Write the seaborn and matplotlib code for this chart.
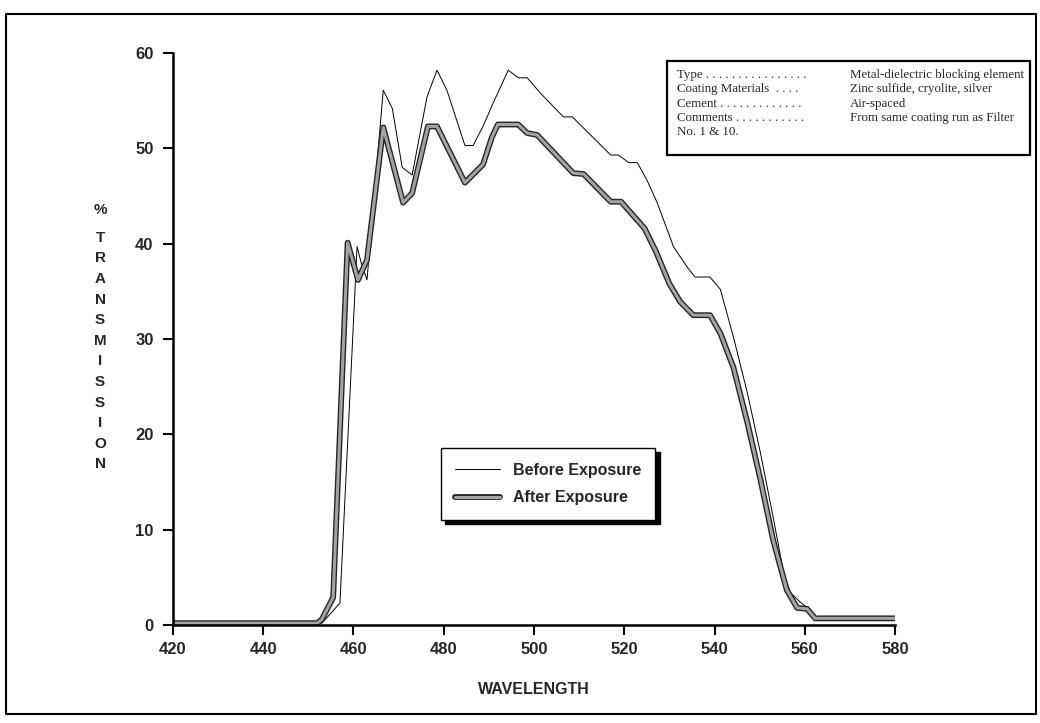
import matplotlib
matplotlib.use("Agg")
import matplotlib.pyplot as plt
import matplotlib.patheffects as pe
from matplotlib.patches import Rectangle
from matplotlib.lines import Line2D
import seaborn as sns

# --- dane ---
wl_before = [420, 440, 453, 457, 460.8, 461.7, 463, 466.6, 468.6, 470.8, 473, 476.3, 478.5,
             480.7, 484.7, 486.5, 488.7, 491, 494.3, 496.5, 498.5, 501.4, 506.5, 508.5, 517,
             518.7, 521, 522.9, 525, 527.3, 530.9, 534, 535.7, 539, 541.3, 544.2, 547.3, 550.2,
             553, 555.3, 556.8, 559, 561.2, 562.5]
t_before = [0.2, 0.2, 0.2, 2.3, 39.7, 38.0, 36.2, 56.1, 54.2, 48.0, 47.2, 55.4, 58.2,
            56.1, 50.3, 50.3, 52.3, 54.8, 58.2, 57.4, 57.4, 55.8, 53.3, 53.3, 49.3,
            49.3, 48.5, 48.5, 46.7, 44.3, 39.7, 37.5, 36.5, 36.5, 35.2, 30.2, 24.3, 18.0,
            11.3, 5.5, 3.4, 2.4, 1.6, 0.7]

wl_after = [420, 440, 452, 453, 455.5, 458.7, 461, 463, 466.6, 471, 473, 476.5, 478.5,
            484.7, 488.7, 490.7, 492, 496.5, 498.5, 500.7, 508.7, 511, 517, 519.3, 524.5,
            527, 530, 532.4, 535.3, 539, 541.3, 544.2, 547.3, 550.2, 553, 556, 558.3,
            560.5, 562.3, 580]
t_after = [0.2, 0.2, 0.2, 0.6, 2.9, 40.1, 36.2, 38.3, 52.2, 44.3, 45.3, 52.3, 52.3,
           46.4, 48.3, 51.2, 52.5, 52.5, 51.6, 51.4, 47.4, 47.3, 44.4, 44.4, 41.6,
           39.2, 35.8, 33.9, 32.5, 32.5, 30.6, 27.0, 21.2, 15.2, 8.9, 3.7, 1.8,
           1.7, 0.7, 0.7]

x_ticks = [420, 440, 460, 480, 500, 520, 540, 560, 580]
y_ticks = [0, 10, 20, 30, 40, 50, 60]

info_left = ["Type . . . . . . . . . . . . . . . .", "Coating Materials  . . . .",
             "Cement . . . . . . . . . . . . .", "Comments . . . . . . . . . . .", "No. 1 & 10."]
info_right = ["Metal-dielectric blocking element", "Zinc sulfide, cryolite, silver",
              "Air-spaced", "From same coating run as Filter", ""]

sns.set_theme(style="ticks")
plt.rcParams['font.family'] = ['Liberation Sans', 'DejaVu Sans']
plt.rcParams['font.weight'] = 'bold'

fig = plt.figure(figsize=(10.4, 7.23), dpi=100)
ax = fig.add_axes([0.1663, 0.1355, 0.6943, 0.7912])

# ramka strony (skan)
fig.patches.append(Rectangle((0.006, 0.012), 0.99, 0.968, transform=fig.transFigure,
                             fill=False, edgecolor='black', linewidth=1.5))

after_fx = [pe.Stroke(linewidth=4.2, foreground='#262626'), pe.Normal()]

sns.lineplot(x=wl_before, y=t_before, ax=ax, color='black', linewidth=0.7,
             estimator=None, sort=False, label='Before Exposure')
sns.lineplot(x=wl_after, y=t_after, ax=ax, color='#a3a3a3', linewidth=2.2,
             estimator=None, sort=False, label='After Exposure', path_effects=after_fx)

ax.set_xlim(420, 580)
ax.set_ylim(0, 60)
ax.set_xticks(x_ticks)
ax.set_yticks(y_ticks)
ax.tick_params(axis='both', length=7, width=1.5, labelsize=12, color='black')
ax.tick_params(axis='y', pad=7)
ax.tick_params(axis='x', pad=5)
for s in ['top', 'right']:
    ax.spines[s].set_visible(False)
for s in ['left', 'bottom']:
    ax.spines[s].set_linewidth(1.8)
    ax.spines[s].set_color('black')
ax.grid(False)

ax.set_xlabel("WAVELENGTH", fontsize=11.5, fontweight='bold', labelpad=18)
ax.set_ylabel("\n".join("TRANSMISSION"), rotation=0, fontsize=11,
              fontweight='bold', linespacing=1.6, va='center', ha='center')
ax.yaxis.set_label_coords(-0.101, 0.479)
ax.text(-0.101, 0.7255, "%", transform=ax.transAxes, fontsize=11, fontweight='bold',
        ha='center', va='center')

handles = [Line2D([], [], color='black', linewidth=0.7),
           Line2D([], [], color='#a3a3a3', linewidth=2.2, path_effects=after_fx)]
leg = ax.legend(handles, ['Before Exposure', 'After Exposure'], loc='upper left',
                bbox_to_anchor=(0.371, 0.309), borderaxespad=0,
                prop={'size': 11.5, 'weight': 'bold'},
                frameon=True, fancybox=False, edgecolor='black', framealpha=1,
                handlelength=2.8, handletextpad=0.8, labelspacing=0.8, borderpad=0.9,
                shadow={'color': 'black', 'alpha': 1, 'ox': 3, 'oy': -3})
leg.get_frame().set_linewidth(1.0)

# ramka z opisem filtra
fig.patches.append(Rectangle((0.641, 0.785), 0.349, 0.13, transform=fig.transFigure,
                             fill=True, facecolor='white', edgecolor='black', linewidth=1.6))
for i, (a, b) in enumerate(zip(info_left, info_right)):
    y = 0.896 - i * 0.0197
    fig.text(0.651, y, a, fontsize=9.3, family='Liberation Serif', fontweight='normal',
             va='center')
    fig.text(0.817, y, b, fontsize=9.3, family='Liberation Serif', fontweight='normal',
             va='center')

fig.savefig("out.png", dpi=100)
